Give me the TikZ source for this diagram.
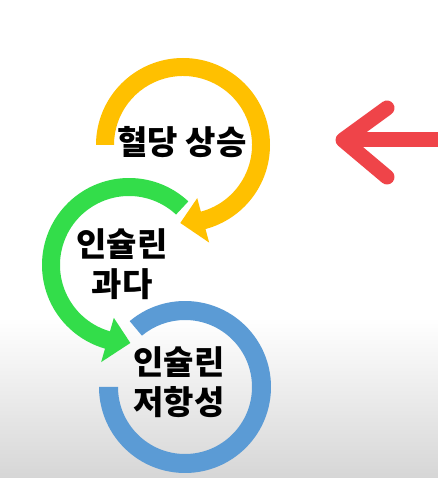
\documentclass[tikz,border=0pt]{standalone}
\usepackage{fontspec}
\newfontfamily\kr{Noto Sans CJK KR}
\definecolor{ringyellow}{HTML}{FFC000}
\definecolor{ringgreen}{HTML}{33DD4A}
\definecolor{ringblue}{HTML}{5B9BD5}
\definecolor{pointred}{HTML}{EF4449}
\begin{document}
\begin{tikzpicture}[x=0.5pt, y=0.5pt,
  ringtext/.style={align=center, font=\kr\bfseries\fontsize{16.5}{20}\selectfont, inner sep=0pt},
  redarrow/.style={draw=pointred, line width=7.5pt, line cap=round, line join=round}]
\useasboundingbox (0,0) rectangle (438,478);
\fill[white] (0,0) rectangle (438,478);
\shade[top color=white, bottom color=black!16] (0,0) rectangle (438,160);
\coordinate (sugar) at (183,333);
\coordinate (excess) at (129,213);
\coordinate (resist) at (185,91);
% yellow ring
\fill[ringyellow, shift={(sugar)}] (180:87) arc[start angle=180, end angle=-75, radius=87]
  -- (-75:101) -- (-92:78) -- (-75:55) -- (-75:69) arc[start angle=-75, end angle=180, radius=69] -- cycle;
% green ring
\fill[ringgreen, shift={(excess)}] (47:87) arc[start angle=47, end angle=254, radius=87]
  -- (254:101) -- (271:78) -- (254:55) -- (254:69) arc[start angle=254, end angle=47, radius=69] -- cycle;
% blue ring
\fill[ringblue, shift={(resist)}] (130:86) arc[start angle=130, end angle=-180, radius=86]
  -- (-180:67) arc[start angle=-180, end angle=130, radius=67] -- cycle;
\node[ringtext] (sugartxt) at (182,336) {혈당 상승};
\node[ringtext] (excesstxt) at (122,214) {인슐린\\과다};
\node[ringtext] (resisttxt) at (179,96) {인슐린\\저항성};
% red pointer
\coordinate (rtip) at (343,338);
\coordinate (rup) at (387,370);
\coordinate (rdown) at (387,301);
\coordinate (rend) at (438,338);
\draw[redarrow] (rup) -- (rtip) -- (rdown);
\draw[redarrow, line cap=butt] (rtip) -- (rend);
\end{tikzpicture}
\end{document}
